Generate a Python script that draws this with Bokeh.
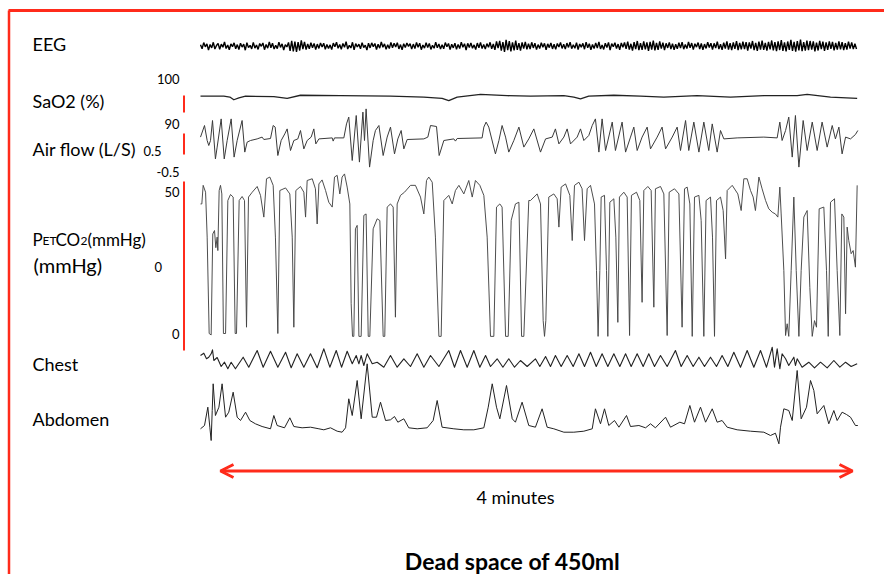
import numpy as np
from bokeh.plotting import figure
from bokeh.models import Range1d, Arrow, OpenHead, Label
from bokeh.embed import file_html
from bokeh.resources import INLINE

# ---------------- data (time in seconds, values in channel units) ----------------
EEG_DT = 0.6
eeg_uv = [
    12,-28,34,-8,22,-41,15,-19,37,-30,5,26,-33,18,-12,40,-25,9,-38,21,
    -6,31,-27,14,-35,28,-11,19,-42,33,-16,7,-29,36,-21,10,-34,25,-3,30,
    -37,16,-22,41,-18,27,-31,8,-26,39,-14,22,-40,13,-9,35,-48,52,-55,44,
    -60,38,-45,57,-30,42,-36,20,-28,33,-17,26,-35,19,-24,31,-11,28,-33,15,
    -24,11,-36,29,-7,38,-23,15,-33,26,-12,43,-30,6,-20,37,-39,24,-10,18,
    -27,34,-15,9,-41,28,-19,31,-6,25,-35,17,-22,40,-13,21,-32,12,-25,36,
    -18,27,-9,33,-29,14,-38,22,-16,30,-4,24,-31,19,-26,35,-12,28,-37,10,
    -21,32,-14,26,-34,8,-23,39,-17,21,-30,13,-27,34,-8,25,-36,18,-19,29,
    -33,16,-25,38,-12,23,-40,27,-15,31,-22,11,-35,29,-18,36,-26,14,-31,24,
    -13,37,-28,20,-39,45,-22,51,-47,38,-58,62,-41,49,-55,36,-44,53,-38,29,
    -46,35,-27,41,-33,22,-30,37,-19,28,-36,14,-25,33,-12,27,-38,21,-16,30,
    -29,18,-34,25,-9,36,-24,17,-31,29,-14,38,-27,12,-22,34,-35,20,-11,26,
    -32,39,-18,23,-37,15,-26,31,-20,42,-29,10,-34,27,-15,36,-41,24,-8,33,
    -25,19,-38,30,-12,35,-28,44,-36,22,-47,39,-31,50,-42,28,-39,46,-33,37,
    -49,41,-35,53,-44,30,-38,45,-26,34,-40,27,-19,36,-30,24,-37,18,-28,33,
    -21,38,-32,15,-26,40,-17,29,-36,22,-11,34,-30,25,-39,19,-24,37,-15,28,
    -35,27,-20,43,-31,18,-38,33,-25,46,-37,29,-42,36,-28,48,-40,31,-34,44,
    -30,39,-45,35,-27,50,-41,32,-48,44,-36,53,-39,30,-46,41,-33,55,-44,38,
    -52,47,-40,58,-49,36,-55,45,-38,62,-50,41,-57,48,-43,65,-52,39,-46,54,
    -41,50,-37,46,-54,33,-45,52,-30,43,-48,36,-39,47,-28,40,-44,31,-36,45,
    -33,38,-42,29,-35,44,-26,37,-31,24,-30,
]

sao2 = [(0,96.3),(8.75,96.3),(11,96.1),(12.5,95.5),(14.4,95.9),(16.9,96.3),(27.5,96.2),
        (32.5,95.8),(37.5,96.5),(52.5,96.4),(71.25,96.3),(83.75,96.1),(90.6,95.8),(93.1,95.3),
        (96.25,96.1),(105,96.7),(115,96.4),(123.75,96.3),(136.25,96.4),(140,96.1),(142.5,95.7),
        (145.6,96.3),(155,96.5),(165,96.3),(173.75,96.1),(186.25,96.4),(198.75,96.1),
        (211.25,96.4),(223.75,96.4),(227.5,96.7),(236.25,96.1),(246.25,95.8)]

airflow = [(0,0.07),(1.5,0.65),(2.5,-0.1),(3.1,-0.35),(3.75,-0.1),(4.5,0.9),(5.6,-1.02),(6.25,-0.43),
    (7.75,0.98),(8.9,-1.02),(10,-0.1),(11.5,0.98),(12.6,-0.93),(13.75,-0.1),(15.6,0.9),(16.6,-0.68),
    (17.5,-0.18),(18.75,-0.1),(21.25,-0.02),(23.1,0.07),(23.75,-0.05),(26.25,0),(27.25,0.65),(28,0.57),
    (29,-0.85),(30.25,-0.1),(31.6,0.23),(32.5,0.48),(33.75,-0.6),(35,-0.1),(36.5,-0.02),(37.5,0.4),
    (38.75,-0.52),(40,-0.1),(41.5,0.07),(42.5,0.48),(43.25,-0.27),(44.4,-0.02),(49.4,0.03),(49.75,-0.13),
    (50.25,0.03),(53.75,0.03),(54.75,0.73),(55.6,1.07),(56.9,-1.1),(58.4,1.15),(59.6,-1.18),(60.9,1.32),
    (61.5,-0.1),(62.1,1.48),(63.4,-1.43),(64.75,-0.1),(65.6,0.4),(66.9,0.65),(68.5,-0.85),(70,0.07),
    (71.25,0.57),(72.75,-0.77),(74,-0.02),(75.25,0.4),(76.25,-0.52),(77.5,-0.05),(83.75,-0.02),
    (85.25,0.07),(86.25,0.65),(88.5,0.6),(89.5,-0.85),(91.25,-0.1),(95,-0.02),(95.6,-0.13),(96.25,0),
    (105.6,0.03),(106.25,0.57),(107.1,0.82),(108.1,0.57),(110.6,-0.77),(111.9,-0.1),(113.1,0.65),
    (114.4,0.07),(115.6,-0.68),(117.5,-0.1),(119.4,0.57),(121.25,-0.43),(123.1,-0.02),(125,0.48),
    (127.5,-0.68),(129.4,-0.02),(131.9,0.07),(133.1,0.48),(134.4,-0.27),(136.25,0.07),(137.5,0.48),
    (138.75,-0.27),(141.25,0.07),(142.5,0.48),(143.75,-0.1),(145.6,0.15),(146.9,0.65),(148.1,0.98),
    (149.4,-0.68),(150.6,0.98),(151.9,-0.6),(154.4,0.82),(155.6,-0.6),(158.1,0.82),(159.4,-0.68),
    (161.25,0.07),(162.5,0.57),(163.75,-0.6),(165.6,0.07),(167.5,0.57),(168.75,-0.52),(171.25,0.07),
    (173.1,0.57),(174.4,-0.52),(176.9,0.07),(178.75,0.57),(180,-0.6),(181.9,0.9),(183.1,-0.6),
    (185,0.82),(186.9,-0.68),(188.75,0.82),(190.6,-0.6),(191.9,0.73),(193.75,-0.68),(195,0.4),
    (196.25,-0.02),(201.25,0.03),(211.25,0.07),(216.25,0.03),(217.25,0.82),(218.1,-0.1),(219.4,0.4),
    (220.6,1.07),(221.9,-0.93),(223.1,1.15),(224.4,-1.43),(226,0.9),(227.5,-0.6),(229.4,0.82),
    (231.25,-0.6),(233.1,0.82),(235,-0.43),(236.9,0.65),(238.1,-0.02),(239.4,0.57),(240.6,-0.77),
    (241.9,0.07),(243.75,-0.02),(245.6,0.2),(246.5,0.4)]

petco2 = [(0,45.3),(0.5,45.3),(1.0,51.8),(1.9,49.4),(2.5,33.7),(3.25,0),(4.0,-0.5),(4.6,34.8),
    (5.25,36),(5.75,30),(6.25,33.7),(6.5,29),(7.0,50),(7.5,51.8),(8.0,48.8),(8.6,0),(9.4,0),
    (10.25,46.5),(11.25,48.6),(12.25,47.7),(13.0,0),(13.5,0),(14.5,46.5),(15.6,47.9),(16.5,46.5),
    (17.25,2.2),(18.0,47.7),(19.4,49.4),(21.25,51.4),(22.5,48.3),(23.75,40.7),(24.75,54.1),
    (26.0,54.7),(27.25,51.8),(28.1,33.7),(29.0,0),(29.75,50),(31.9,50.9),(33.5,48.8),(34.4,33.7),
    (35.0,2.2),(35.75,50),(37.5,51.4),(38.75,49.4),(39.4,40.7),(40.0,53.5),(41.9,54.1),(43.1,50.6),
    (43.75,38.3),(44.4,52.3),(45.6,53.7),(46.9,50),(48.1,45.9),(49.4,44.2),(50.25,54.7),(51.25,55.3),
    (52.25,48.8),(53.1,54.7),(54.0,55.8),(55.0,51.2),(56.0,45.3),(56.5,10.4),(57.0,-1),(57.5,-1),
    (58.1,36.6),(58.75,37.8),(59.4,-1),(60.25,-1),(61.25,41.3),(62.1,41.8),(62.9,-1),(63.5,-1),
    (64.75,36.6),(66.25,40.1),(67.25,39.5),(68.5,-1),(69.1,-1),(70.0,44.2),(71.25,45.3),(72.25,44.2),
    (73.1,5.7),(73.75,45.3),(75.0,48.3),(76.5,49.4),(78.75,51.8),(80.6,51.8),(82.5,47.7),(83.75,41.8),
    (84.75,53.5),(85.6,54.7),(86.9,52.9),(88.1,33.7),(89.4,-1),(90.25,-1),(91.25,46.5),(93.1,48.3),
    (94.4,45.3),(95.6,50),(96.9,51.8),(98.75,48.8),(100.6,53.5),(101.9,47.7),(103.1,53.5),
    (104.75,51.8),(106.25,48.3),(107.5,33.7),(108.75,-1),(110.0,-1),(111.0,44.2),(112.25,45.3),
    (113.1,44.2),(114.4,-1),(115.4,-1),(116.5,39.5),(118.1,45.3),(119.4,45.9),(120.4,-1),(121.25,-1),
    (123.1,46.5),(123.75,46.5),(126.25,48.8),(127.5,45.3),(128.5,4.5),(129.0,-1),(129.5,4.5),
    (130.6,47.7),(132.5,48.8),(133.75,47.1),(134.4,37.2),(135.25,51.2),(136.9,52.3),(138.5,48.3),
    (139.4,32.5),(140.25,51.8),(141.9,52.9),(143.1,50.6),(144.0,32.5),(145.0,50.6),(146.25,51.8),
    (147.75,45.3),(148.5,22),(149.1,-1),(149.75,22),(150.25,47.7),(151.5,48.3),(152.25,22),
    (152.75,-1),(153.5,45.9),(155.0,47.1),(155.75,33.7),(156.5,3.9),(157.1,47.7),(158.75,49.4),
    (160.0,47.7),(160.9,-0.7),(161.6,48.3),(163.5,49.4),(164.75,46.5),(165.6,10.9),(166.25,50),
    (167.75,51.4),(169.0,50),(170.0,9.2),(170.6,50.6),(172.5,51.4),(173.75,48.8),(175.0,-0.7),
    (175.75,49.4),(177.75,50.6),(179.4,48.8),(180.6,2.2),(181.5,50.6),(182.5,51.2),(183.5,45.3),
    (184.4,-1),(185.25,47.7),(186.9,48.3),(187.75,39.5),(188.75,-1),(189.6,46.5),(191.25,47.7),
    (192.0,33.7),(192.75,-1),(193.5,46.5),(195.0,47.7),(196.0,43),(196.9,26.1),(197.5,50),
    (199.4,51.8),(201.5,48.8),(202.75,43),(203.75,54.1),(205.0,54.1),(206.25,50),(207.25,47.7),
    (208.1,43),(209.4,54.7),(210.6,50.6),(211.9,46.5),(213.1,43.6),(214.4,42.4),(215.6,41.8),
    (216.5,40.7),(217.25,51.2),(217.75,41.8),(218.75,22),(219.4,-0.7),(220.0,3.4),(220.6,-1),
    (221.5,22),(222.5,47.7),(223.4,22),(224.4,-1),(225.25,22),(226.25,40.7),(227.5,43),(228.5,16),
    (229.4,-1),(230.25,4.5),(231.0,2.2),(232.0,43.6),(233.75,44.2),(234.75,22),(235.4,-1),
    (236.25,45.9),(237.75,47.1),(238.75,22),(239.75,-0.7),(240.5,41.8),(241.25,40.7),(241.9,6.9),
    (242.5,37.2),(243.1,32.5),(244.0,27.9),(244.75,29),(245.6,23.2),(246.25,51.8)]

chest = [(0,5),(1.25,7.3),(2.25,1.7),(3.1,3.3),(4,6.7),(4.5,10.7),(5,0),(6.25,3),(7.75,-6),(9,-1.7),
    (10.25,-8.3),(11.5,-1.7),(13.1,-8.3),(16,3.3),(18.1,-6.7),(21.25,10),(23.5,-6.7),(26.25,9.3),
    (29,-6.7),(31.9,8.3),(34,-7.3),(36.25,6.7),(38.75,-6.7),(41.25,6.7),(43.75,-7.3),(46.25,11.7),
    (48.5,-6.7),(50.9,10),(52.9,-6.7),(55,9.3),(56.9,-3.3),(58.4,5),(59.4,-3.3),(60.25,5),(61.25,-5),
    (62.5,6.7),(64.4,-3.3),(66.25,-1.7),(68.75,-6.7),(71.25,5),(73.75,-6.7),(76.25,1.7),(78.75,-6),
    (81.25,6.7),(83.75,-6.7),(86.25,5),(89.4,-6),(93.1,10),(95.25,-6.7),(97.5,10),(100,-6.7),
    (102.5,10),(104.75,-6.7),(106.9,5),(108.75,-6),(111.25,1.7),(113.4,-6.7),(115.6,1.7),
    (117.75,-6.7),(120,0),(122.5,-6),(125.6,1.7),(127.25,-6),(129.4,4),(131.25,-6),(133.1,5),
    (135.25,-6),(137.5,5),(139.75,-6),(141.9,6.7),(144,-6),(146.25,8.3),(148.4,-6),(150.6,6.7),
    (152.75,-6),(155,6.7),(157.25,-6),(159.4,6.7),(161.5,-6),(163.75,6.7),(166,-6),(168.1,6.7),
    (170.25,-6),(172.5,5),(175,-6),(178.1,10),(180.25,-6),(182.5,5),(184.75,-6),(186.9,3.3),(189,-6),
    (191.25,3.3),(193.5,-6),(195.6,5),(197.75,-6),(200,8.3),(202.5,-6.7),(205,10),(207.5,-6.7),
    (210,10),(212.25,-6.7),(214.4,13.3),(215.25,-6.7),(216.25,11.7),(217.25,-8.3),(218.1,6.7),
    (219.4,1.7),(220.6,-5),(222.5,3.3),(223.1,-5),(223.75,1.7),(225.6,-6.7),(228.1,-1.7),
    (230.25,-7.3),(232.5,-1.7),(235,-7.3),(237.5,0),(239.75,-6.7),(241.9,-1.7),(244,-6),(246.25,-3.3)]

abdomen = [(0,1.7),(1.5,5),(2.75,23.3),(3.5,3.3),(4,-10),(4.4,20),(4.75,46.7),(5.6,15),(6.9,23.3),
    (8.1,46.7),(9.4,13.3),(10.6,18.3),(12.25,38.3),(13.75,13.3),(15,10),(16.9,18.3),(18.5,10),
    (20.6,6.7),(23.1,4),(26.25,1.7),(27.5,15),(28.75,5),(31.5,2.7),(33.5,12.7),(35,4),(38.1,2.7),
    (41.25,3.3),(44.4,1.7),(46.25,0.7),(48.75,2.7),(51.25,-0.7),(53.1,-1.7),(54.4,2.7),(55.6,31.7),
    (56.9,15),(58.75,50),(60.25,11.7),(62.5,66.7),(64.4,13.3),(66,13.3),(67.5,28.3),(69.4,10),
    (71.25,10.7),(72.75,14),(74,8.3),(76.25,11.7),(78.1,2.7),(81.25,1.7),(85,2.7),(87.25,10),
    (88.75,30),(90.6,3.3),(95,1.7),(98.75,0.7),(102.5,0.7),(106.25,2.7),(107.9,23.3),(109.4,46.7),
    (111,23.3),(112.25,11.7),(114.75,45),(116.9,11.7),(118.1,8.3),(120.6,28.3),(123.1,5),(125.6,3.3),
    (128.1,21.7),(130,3.3),(132.5,1.7),(136.25,-1.7),(140,-1.7),(143.75,-0.7),(146.9,1.7),
    (148.1,21.7),(150,6.7),(151.5,21.7),(153.1,5),(155.25,10),(156.9,3.3),(159.75,15),(161.25,4),
    (164.4,5),(166.9,2.7),(168.75,6.7),(170.6,2.7),(174.4,13.3),(176.25,3.3),(179.75,8.3),
    (181.5,6.7),(183.5,25),(185.25,8.3),(187.5,23.3),(189.4,8.3),(191.9,21.7),(193.75,8.3),
    (195.6,10),(197.5,3.3),(201.25,0.7),(206.25,-0.7),(211.25,-1.7),(213.75,-5),(215.6,-2.7),
    (216.9,-13.3),(217.5,3.3),(218.75,21.7),(220.6,20),(221.9,10),(223.75,60),(225.25,11.7),
    (227.25,23.3),(228.75,50),(230,40),(231.25,16.7),(233.75,25),(235.6,6.7),(237.5,20),(238.75,10),
    (240.6,18.3),(242.25,16),(243.75,13.3),(245.6,5),(246.5,5)]

channel_labels = ["EEG", "SaO2 (%)", "Air flow (L/S)", "Chest", "Abdomen"]
scale_labels = ["100", "90", "0.5", "-0.5", "50", "0", "0"]
duration_label = "4 minutes"
title = "Dead space of 450ml"

# ---------------- layout ----------------
W, H = 884, 574
RED = "#ff2b1b"
FONT = "Lato"
PX_PER_S = 8 / 3
T0_PX = 200


def px2t(px):
    return (px - T0_PX) / PX_PER_S


def band(va, ya, vb, yb):
    k = (vb - va) / (yb - ya)
    return Range1d(start=va + (H - ya) * k, end=va - ya * k)


p = figure(width=W, height=H, x_range=Range1d(px2t(0), px2t(W)), y_range=Range1d(H, 0),
           output_backend="svg", toolbar_location=None, x_axis_type=None, y_axis_type=None,
           min_border=0, outline_line_color=None, background_fill_color="white")
p.grid.grid_line_color = None

p.extra_y_ranges = {
    "eeg": band(0, 45.5, 100, 35.5),
    "sao2": band(100, 79, 90, 124),
    "flow": band(0, 138, 1, 118),
    "co2": band(50, 190, 0, 333),
    "chest": band(0, 360, 10, 350),
    "abd": band(0, 430, 10, 420),
}


def split(pairs):
    return [a for a, _ in pairs], [b for _, b in pairs]


eeg_t = [i * EEG_DT for i in range(len(eeg_uv))]
p.line(eeg_t, eeg_uv, y_range_name="eeg", line_color="black", line_width=1.4)
for name, pairs, col, lw in [("sao2", sao2, "#222222", 1.3), ("flow", airflow, "#3a3a3a", 1.0),
                             ("co2", petco2, "#444444", 0.95), ("chest", chest, "#222222", 1.1),
                             ("abd", abdomen, "#222222", 1.0)]:
    t, v = split(pairs)
    p.line(t, v, y_range_name=name, line_color=col, line_width=lw, line_join="round")

# frame lines
p.segment(x0=[px2t(8), px2t(8.5)], y0=[10, 10], x1=[px2t(W), px2t(8.5)], y1=[10, H],
          line_color=RED, line_width=[3, 2.5])
# red scale bars
bx = px2t(183.5)
p.segment(x0=[bx] * 3, y0=[95, 133, 181], x1=[bx] * 3, y1=[112, 154, 350], line_color=RED, line_width=2)

# arrow
p.add_layout(Arrow(start=OpenHead(size=13, line_color=RED, line_width=3),
                   end=OpenHead(size=13, line_color=RED, line_width=3),
                   x_start=px2t(220), x_end=px2t(852), y_start=470.5, y_end=470.5,
                   line_color=RED, line_width=3))


def lab(text, xpx, baseline, size, align="left", style="normal"):
    # measured: rendered glyphs sit ~0.38*size below the requested baseline
    p.add_layout(Label(x=px2t(xpx), y=baseline - 0.38 * size, text=text, text_font=FONT,
                       text_font_size=f"{size}px", text_align=align, text_baseline="alphabetic",
                       text_color="black", text_font_style=style))


# channel labels
for txt, yb in zip(channel_labels, [50, 107, 155, 370, 425]):
    lab(txt, 32, yb, 18)
# PetCO2 label in pieces (small-caps ET and small 2)
lab("P", 32, 245, 17)
lab("ET", 42, 245, 12)
lab("CO", 55, 245, 17)
lab("2", 80, 245, 12)
lab("(mmHg)", 87, 245, 17)
lab("(mmHg)", 33, 272, 20)

# scale labels
for txt, (xp, yb, al) in zip(scale_labels, [(179, 83, "right"), (179, 128, "right"), (143, 155, "left"),
                                             (179, 176, "right"), (179, 196, "right"), (154, 271, "left"),
                                             (179, 338, "right")]):
    lab(txt, xp, yb, 13, al)

lab(duration_label, 515, 503, 18, "center")
lab(title, 512, 569, 23, "center", "bold")

open("out.html", "w").write(file_html(p, INLINE))
